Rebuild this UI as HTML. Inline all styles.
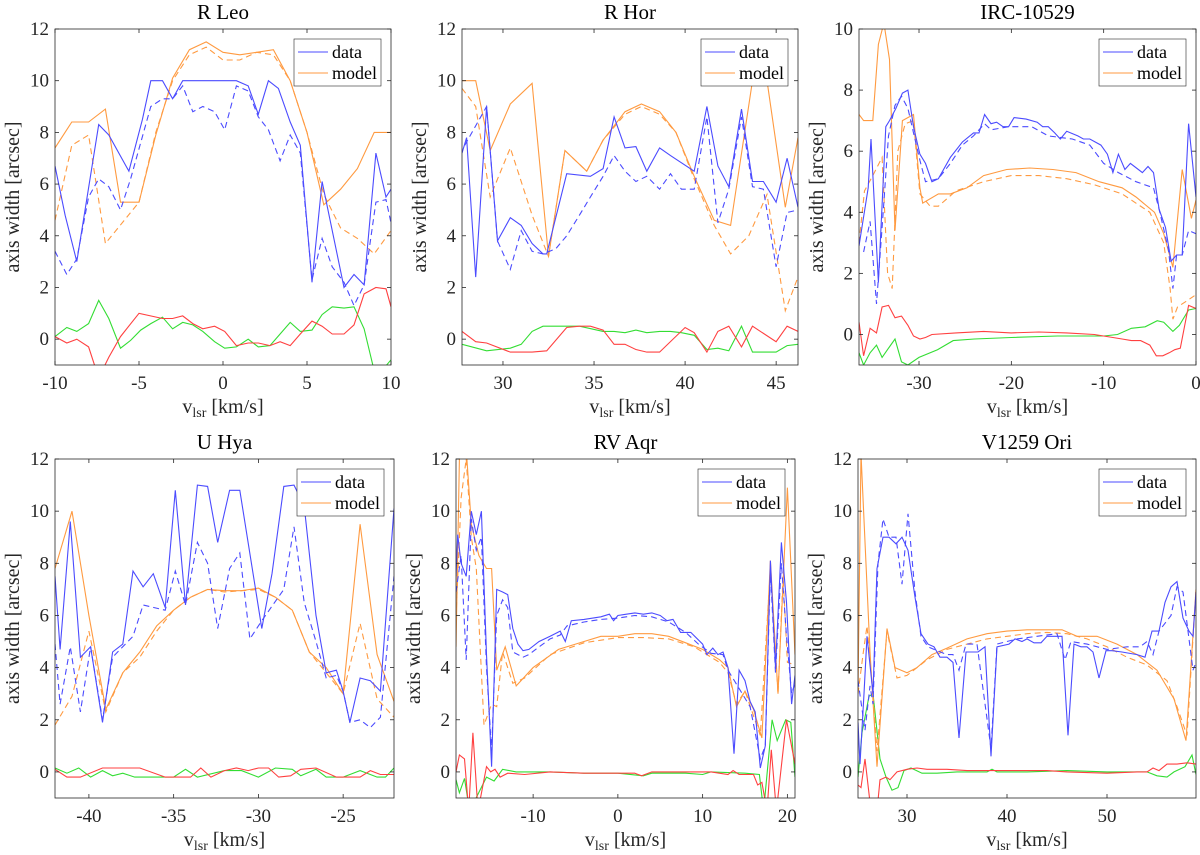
<!DOCTYPE html>
<html><head><meta charset="utf-8"><style>
body{margin:0;background:#fff}
svg{display:block;font-family:"Liberation Serif","DejaVu Serif",serif}
svg text{font-family:"Liberation Serif","DejaVu Serif",serif}
</style></head><body>
<svg id="fig" width="1200" height="855" viewBox="0 0 1200 855" xmlns="http://www.w3.org/2000/svg" font-family="Liberation Serif, DejaVu Serif, serif"></svg>
<script>
// ---------- Panel 1: R Leo ----------
const p1_bs_x=[-10,-9.4,-8.7,-7.4,-6.8,-5.6,-4.8,-4.3,-3.6,-3,-2.4,0.8,1.5,2.1,2.7,3.3,4,4.6,5.3,5.9,7.2,7.8,8.4,9.1,9.7,10];
const p1_bs_y=[6.7,4.8,3.0,8.3,7.9,6.5,8.5,10,10,9.3,10,10,9.8,8.7,10,9.7,8.4,7.5,2.2,6.1,2.0,2.5,2.1,7.2,5.5,5.8];
const p1_bd_x=[-10,-9.3,-8.7,-8,-7.4,-6.8,-6.1,-5.5,-4.3,-3.6,-3,-2.4,-1.8,-1.2,-0.5,0.1,0.8,1.5,2.1,2.7,3.4,4,4.6,5.3,5.9,6.5,7.2,7.8,8.4,9.1,9.7,10];
const p1_bd_y=[3.4,2.5,3.1,5.5,6.2,5.9,5.0,6.2,9.0,9.3,9.3,9.8,8.8,9.0,8.8,8.1,9.8,9.6,8.6,8.1,6.9,7.9,7.2,2.3,3.9,2.8,2.2,1.3,2.1,5.3,5.4,4.5];
const p1_os_x=[-10,-9,-8,-7,-6.1,-5,-4,-3,-2,-1,0,1,2,3,4,5,6,7,8,9,10];
const p1_os_y=[7.4,8.4,8.4,8.9,5.3,5.3,7.9,10.1,11.2,11.5,11.1,11.0,11.1,11.2,10,8.0,5.2,5.8,6.6,8.0,8.0];
const p1_od_x=[-10,-9,-8,-7,-5,-4,-3,-2,-1,0,1,2,3,4,5,6,7,8,9,10];
const p1_od_y=[4.6,7.5,7.9,3.7,5.3,8,10,11,11.3,10.8,10.8,11.1,11,10,8,5.6,4.3,3.9,3.3,4.2];
const p1_r_x=[-10,-9.3,-8.7,-8,-7.4,-6.8,-6.1,-5,-3.6,-3,-2.4,-1.8,-1.2,-0.5,0.1,0.8,1.5,2.1,2.8,3.4,4,4.6,5.3,5.9,6.5,7.2,7.8,8.4,9.1,9.7,10];
const p1_r_y=[0.1,-0.15,0,-0.3,-1.5,-0.7,0.1,1.0,0.8,0.8,0.9,0.6,0.4,0.5,0.3,-0.25,-0.15,-0.15,-0.25,-0.1,-0.25,0.2,0.7,0.5,0.2,0.2,0.55,1.75,2.0,1.95,1.25];
const p1_g_x=[-10,-9.3,-8.7,-8,-7.4,-6.8,-6.1,-5.5,-4.9,-4.3,-3.6,-3,-2.4,-1.8,-1.2,-0.5,0.1,0.8,1.5,2.1,2.8,3.4,4,4.6,5.3,5.9,6.5,7.2,7.8,8.4,9.1,10];
const p1_g_y=[0.1,0.45,0.3,0.6,1.5,0.8,-0.35,-0.05,0.35,0.6,0.85,0.4,0.65,0.55,0.3,-0.1,-0.35,-0.3,0,-0.3,-0.25,0.2,0.65,0.3,0.35,0.95,1.25,1.2,1.25,0.4,-1.5,-0.8];

// ---------- Panel 2: R Hor ----------
const p2_bs_x=[27.75,28,28.5,29.1,29.7,30.4,31,31.6,32.2,32.4,33.5,34.8,35.5,36.1,36.7,37.3,37.9,38.6,39.2,40.5,41.2,41.8,42.4,43.1,43.7,44.3,45,45.6,46.2];
const p2_bs_y=[7.2,7.8,2.4,9.0,3.8,4.7,4.4,3.7,3.3,3.3,6.4,6.3,6.6,8.6,7.4,7.45,6.5,7.4,7.1,6.5,9.0,6.7,5.9,8.9,6.1,6.1,5.3,7.0,5.1];
const p2_bd_x=[27.9,29.1,29.7,30.4,31,31.6,32.2,32.9,33.5,34.2,34.8,35.5,36.1,36.7,37.3,37.9,38.6,39.2,39.8,40.5,41.2,41.8,42.4,43.1,43.7,44.3,45,45.6,46.2];
const p2_bd_y=[7.5,9.0,3.8,2.7,4.2,3.4,3.3,3.5,4.0,4.8,5.5,6.3,7.1,6.5,6.1,6.3,5.8,6.4,5.8,5.8,8.6,4.5,5.8,8.6,5.9,5.8,2.8,4.9,5.0];
const p2_os_x=[27.75,28.5,29.3,30.4,31.6,32.5,33.4,34.6,35.5,36.7,37.6,38.6,39.5,40.5,41.6,42.5,43.7,44.5,45.5,46.2];
const p2_os_y=[10,10,7.3,9.1,9.9,3.2,7.3,6.5,7.7,8.8,9.1,8.8,8.0,6.3,4.6,4.4,10,10,5.1,7.8];
const p2_od_x=[27.75,28.5,29.3,30.4,31.6,32.5,33.4,34.6,35.5,36.7,37.6,38.6,39.5,40.5,41.6,42.5,43.5,44.5,45.5,46.2];
const p2_od_y=[9.7,9.0,5.5,7.4,4.8,3.2,7.3,6.5,7.7,8.7,9.0,8.7,8.0,6.2,4.4,3.3,4.0,5.6,1.1,2.4];
const p2_r_x=[27.75,28.5,29.1,30.4,31.6,32.4,33.5,34.2,34.8,35.5,36.1,36.7,37.3,37.9,38.6,40,40.5,41.2,41.8,42.4,43.1,43.7,45,45.6,46.2];
const p2_r_y=[0.3,-0.1,-0.15,-0.5,-0.5,-0.45,0.45,0.5,0.5,0.35,-0.2,-0.2,-0.4,-0.5,-0.5,0.45,0.25,-0.5,0.3,0.5,-0.3,0.5,-0.1,0.5,0.3];
const p2_g_x=[27.75,29.1,30.4,31,31.6,32.2,34.2,35.5,36.1,36.7,37.3,37.9,38.6,39.2,39.8,40.5,41.2,41.8,42.4,43.1,43.7,45,45.6,46.2];
const p2_g_y=[-0.2,-0.45,-0.35,-0.2,0.3,0.5,0.5,0.3,0.3,0.25,0.35,0.25,0.3,0.3,0.25,0.15,-0.4,-0.35,-0.45,0.5,-0.5,-0.5,-0.25,-0.2];

// ---------- Panel 3: IRC-10529 ----------
const p3_bs_x=[-36.5,-35.5,-35.2,-34.4,-33.6,-33.2,-32.5,-31.8,-31.2,-30.6,-29.9,-29.3,-28.6,-27.9,-26.6,-25.3,-24.1,-23.5,-22.9,-22.2,-21.6,-20.9,-20.3,-19.7,-18.4,-17.2,-16.6,-16,-15.3,-14.7,-14,-12.8,-12.2,-11.5,-10.3,-9.6,-9,-8.4,-7.7,-7.1,-5.8,-5.2,-4.6,-4,-3.3,-2.7,-2.1,-1.5,-0.8,0];
const p3_bs_y=[2.9,4.8,6.4,1.7,6.8,7.0,7.4,7.9,8.0,6.8,5.9,5.6,5.0,5.1,5.8,6.3,6.6,6.6,7.2,6.9,6.95,6.8,6.8,7.1,7.05,6.95,6.8,6.8,6.6,6.4,6.65,6.5,6.4,6.4,6.2,5.9,5.3,5.9,5.4,5.6,5.3,5.5,5.3,4.1,3.5,2.4,2.6,2.6,6.9,4.5];
const p3_bd_x=[-36,-35.3,-34.6,-34,-33.3,-32.6,-31.9,-31.2,-30.6,-29.9,-29.3,-27.9,-26.6,-25.3,-24.1,-22.9,-22.2,-20.3,-17.8,-16,-13.4,-11.5,-10,-8.4,-6.5,-4.6,-4,-3,-2.5,-2.1,-1.5,-0.8,0];
const p3_bd_y=[2.7,3.7,1.0,3.5,6.5,7.5,7.8,7.4,6.6,5.7,5.0,5.1,5.6,6.2,6.5,6.9,6.7,6.8,6.8,6.5,6.4,6.2,5.6,5.3,5.0,4.8,4.1,2.8,1.5,2.6,2.6,3.4,3.3];
const p3_os_x=[-36.5,-36,-35,-34.4,-33.8,-33.2,-32.6,-31.8,-30.6,-29.9,-29.6,-27.9,-26.6,-24.8,-23,-20.5,-18,-15.5,-13,-10.5,-8,-6.5,-4.5,-3.5,-2.5,-1.5,-0.5,0];
const p3_os_y=[7.2,7.0,7.0,9.5,10.2,9.0,3.4,7.0,7.2,4.8,4.3,4.6,4.6,4.8,5.2,5.4,5.45,5.4,5.3,5.0,4.8,4.5,4.0,3.3,2.2,5.4,3.8,4.4];
const p3_od_x=[-36.5,-35.9,-35,-34,-33.4,-32.9,-32.3,-31.5,-30.6,-29.9,-28.8,-27.9,-26,-23,-20,-17,-14,-11,-8,-5,-3.5,-2.8,-2.5,-2,-1,0];
const p3_od_y=[3.0,4.7,5.2,5.8,2.0,1.5,6.0,6.9,7.0,4.6,4.2,4.2,4.7,5.0,5.2,5.2,5.1,4.9,4.6,4.0,3.0,1.5,0.5,0.9,1.1,1.3];
const p3_r_x=[-36.5,-36,-35.3,-34.6,-34,-33.3,-32.6,-31.9,-31.2,-30.6,-29.9,-29.3,-28.6,-26,-23,-20,-17,-14,-11,-9,-8,-7,-6,-5,-4.3,-3.6,-2.9,-2.3,-1.7,-0.8,0];
const p3_r_y=[0.4,-0.7,0.2,0.05,0.9,0.95,0.55,0.6,0.3,-0.05,-0.15,-0.1,0.0,0.05,0.1,0.05,0.08,0.05,0.0,-0.1,-0.15,-0.2,-0.2,-0.35,-0.7,-0.7,-0.6,-0.5,-0.45,0.95,0.85];
const p3_g_x=[-36.5,-36,-35.3,-34.6,-34,-33.3,-32.6,-31.9,-31.2,-30,-28,-26.3,-24,-20,-15,-10,-8.5,-7,-5.5,-4.2,-3.5,-2.5,-1.8,-0.8,0];
const p3_g_y=[-0.6,-1.0,-0.6,-0.35,-0.75,-0.45,-0.15,-0.9,-1.0,-0.75,-0.5,-0.2,-0.15,-0.1,-0.05,-0.05,0.0,0.2,0.25,0.45,0.4,0.1,0.3,0.8,0.85];

// ---------- Panel 4: U Hya ----------
const p4_bs_x=[-42,-41.7,-41.1,-40.5,-39.9,-39.2,-38.6,-38,-37.4,-36.8,-36.2,-35.5,-34.9,-34.3,-33.6,-33,-32.4,-31.7,-31.1,-29.8,-29.2,-28.5,-27.9,-27.3,-26.6,-26,-25.4,-25,-24.6,-24,-23.4,-22.8,-22];
const p4_bs_y=[7.5,4.7,9.6,4.4,4.8,1.9,4.6,4.9,7.7,7.1,7.6,6.3,10.8,6.4,11.0,10.95,8.8,10.8,10.8,5.5,7.6,10.95,11.0,10.2,6.0,3.8,3.9,3.1,1.9,3.6,3.5,3.1,10.1];
const p4_bd_x=[-42,-41.7,-41.1,-40.5,-39.9,-39.2,-38.6,-37.4,-36.8,-35.5,-34.9,-34.3,-33.6,-33,-32.4,-31.7,-31.1,-30.5,-29.8,-28.5,-27.9,-27.3,-26.6,-26,-25.4,-25,-24.6,-24,-23.4,-22.8,-22];
const p4_bd_y=[4.9,2.6,4.8,2.3,4.8,2.0,4.4,5.2,6.4,6.2,7.7,6.4,8.8,8.0,5.5,7.8,8.4,5.1,5.8,7.0,9.4,6.5,5.0,3.6,3.7,3.1,1.9,2.0,1.7,2.1,7.5];
const p4_os_x=[-42,-41,-40,-39,-38,-37,-36,-35,-34,-33,-32,-31,-30,-29,-28,-27,-26,-25,-24,-23,-22];
const p4_os_y=[7.8,10.0,6.0,2.4,3.8,4.6,5.6,6.2,6.7,7.0,6.95,6.95,7.05,6.7,6.2,4.6,4.0,3.0,9.5,4.5,2.7];
const p4_od_x=[-42,-41,-40,-39,-38,-37,-36,-35,-34,-33,-32,-31,-30,-29,-28,-27,-26,-25,-24,-23,-22];
const p4_od_y=[1.8,2.9,5.4,2.3,3.8,4.4,5.4,6.2,6.7,7.0,6.9,6.95,7.0,6.7,6.2,4.6,3.8,3.0,5.7,2.8,2.1];
const p4_r_x=[-42,-41.3,-40.5,-39.2,-37,-35.5,-34,-33.4,-32.8,-32,-31.3,-30.6,-30,-29.4,-28.8,-28.1,-27.5,-26.6,-25.4,-24,-23.4,-22.8,-22];
const p4_r_y=[0.1,-0.2,-0.2,0.15,0.15,-0.2,-0.2,0.15,-0.2,0.05,0.15,0.05,0.15,0.15,-0.2,-0.15,0.1,0.15,-0.2,-0.2,0.05,-0.1,-0.1];
const p4_g_x=[-42,-41.3,-40.6,-39.9,-39.2,-38.6,-38,-37.3,-35,-34.3,-33.6,-32,-31,-30,-29,-28,-27.5,-26.6,-26,-25,-24,-23,-22.5,-22];
const p4_g_y=[0.15,-0.05,0.15,-0.2,0.05,-0.15,-0.05,-0.2,-0.2,0.1,-0.2,0.05,0.05,-0.2,0.15,0.1,-0.15,0.1,-0.2,-0.2,0.05,-0.2,-0.2,0.15];

// ---------- Panel 5: RV Aqr ----------
const p5_bs_x=[-19.1,-18.9,-18.5,-17.9,-17.3,-16.7,-16.1,-15.5,-14.9,-14.3,-13.6,-13,-12.4,-11.8,-11.2,-10.5,-9.3,-8,-6.8,-6.2,-5.5,-4,-2,-1,-0.5,0,1,2,3,4,5,5.8,6.5,7.4,8.6,10,10.5,11.2,11.8,12.4,13,13.7,14.3,15,15.6,16.2,16.8,17.4,18,18.6,19.3,19.9,20.5,20.9];
const p5_bs_y=[7.5,9.1,8.0,7.5,10.0,9.1,10.0,4.5,0.2,7.0,6.9,6.8,5.5,4.9,4.65,4.7,5.0,5.2,5.4,5.0,5.8,5.85,5.95,6.05,5.8,6.0,6.05,6.1,6.05,6.1,6.0,5.8,5.85,5.35,5.35,4.9,4.5,4.75,4.5,4.6,4.0,0.7,3.9,3.5,2.7,2.3,0.15,1.0,8.1,4.0,8.8,6.5,2.6,3.7];
const p5_bd_x=[-19.1,-18.5,-17.9,-17.3,-16.7,-16.1,-15.5,-14.9,-14.3,-13.6,-13,-12.4,-11.2,-10.5,-9.3,-8,-6.8,-6,-4,-2,0,2,4,6,8,9.5,11,12.4,13,14.3,15.6,16.8,17.4,18,18.6,19.3,19.9,20.5,20.9];
const p5_bd_y=[6.9,8.3,4.3,9.7,8.5,9.0,4.0,0.8,6.0,6.6,6.3,4.6,4.4,4.5,4.8,5.1,5.25,5.6,5.75,5.85,5.9,6.0,5.95,5.75,5.35,4.9,4.55,4.5,3.9,3.2,2.5,0.5,1.0,7.7,3.8,8.0,5.2,3.0,3.4];
const p5_os_x=[-19.1,-18.7,-17.9,-17.3,-16.4,-15.5,-14.9,-14.3,-13.3,-12,-10,-7,-4,-2,0,2,4,6,8,10,12,13,14,15,16,17,18,18.9,20,20.9];
const p5_os_y=[4.8,12,12.4,9.5,8.3,7.8,7.8,3.9,4.8,3.3,4.0,4.7,5.0,5.2,5.2,5.3,5.3,5.2,4.95,4.7,4.3,4.0,2.5,3.1,2.4,1.3,8.1,3.0,10.9,4.5];
const p5_od_x=[-19.1,-18.5,-17.9,-17.3,-16.7,-15.8,-14.9,-14.3,-13.6,-12.4,-11,-8,-4,0,3,6,9,12,13,14,15,16.8,18,18.9,19.5,20,20.9];
const p5_od_y=[5.9,10.5,12.0,9.0,7.8,1.8,2.6,2.5,4.6,3.4,3.6,4.5,4.95,5.15,5.15,5.1,4.8,4.2,3.8,2.6,3.1,1.4,7.8,3.0,7.5,4.2,4.1];
const p5_r_x=[-19.1,-18.7,-18.1,-17.6,-17.1,-16.5,-15.5,-15,-14.5,-13.9,-13,-11,-8,-4,0,2,2.8,4,8,11,13,13.6,14.3,16,16.5,17,17.6,18.1,18.7,19.9,20.9];
const p5_r_y=[0.0,0.65,0.5,-1.5,1.5,-1.5,0.2,0.0,0.1,-0.2,-0.05,-0.1,0,-0.05,-0.05,-0.05,-0.15,0.0,0.0,0.0,-0.1,0.05,-0.1,-0.1,-0.5,-0.4,-1.5,0.85,-1.5,2.0,0.3];
const p5_g_x=[-19.1,-18.7,-18.1,-17.5,-15.5,-14.6,-13.6,-12,-8,-4,0,3,4,8,10,11,15,16.7,17.2,18.2,18.8,19.8,20.4,20.9];
const p5_g_y=[-0.3,-0.8,-0.25,-1.5,-0.2,-0.35,0.1,0.0,0.0,-0.05,-0.05,-0.15,-0.05,-0.05,-0.1,0.0,-0.05,-0.1,-1.5,2.0,1.2,2.0,1.9,-0.2];

// ---------- Panel 6: V1259 Ori ----------
const p6_bs_x=[25.1,25.3,25.7,26,26.6,27,27.6,28.2,28.9,29.5,30.1,30.8,31.4,32.1,32.7,33.3,34,34.6,35.2,35.9,37.1,37.8,38.4,39,40.2,40.8,41.5,42,42.7,43.4,44,45,45.5,46.1,46.7,47.4,48,48.6,49.2,49.9,50.5,51.5,53,53.8,54.5,55.2,55.8,56.4,57,57.6,58.2,58.6,58.9];
const p6_bs_y=[1.9,0.3,3.0,5.2,3.0,7.8,9.0,9.0,8.75,9.0,8.5,6.7,5.3,4.9,4.8,4.4,4.4,4.2,1.3,4.6,4.6,4.8,0.6,4.8,4.9,5.1,5.0,5.1,4.95,4.95,5.2,5.2,5.2,1.4,4.9,4.8,4.8,4.6,3.6,4.65,4.65,4.6,4.5,4.4,5.4,5.4,6.5,7.1,7.3,5.9,5.4,5.2,6.9];
const p6_bd_x=[25.1,25.8,26.3,26.6,27.1,27.6,28.2,28.9,29.5,30.1,30.8,31.4,32.1,32.7,34,34.6,35.2,35.9,37,38.4,39,41,43,45,45.8,46.4,48,50,52,53.3,54,54.6,55.2,56.4,57,57.6,58.6,58.9];
const p6_bd_y=[3.5,1.6,3.3,2.6,8.0,9.7,9.0,9.0,7.2,9.9,6.9,5.2,4.8,4.7,4.5,4.5,3.9,4.9,4.9,0.9,4.9,5.1,5.2,5.3,4.3,5.0,4.9,4.7,4.8,4.8,5.0,4.5,5.4,6.0,7.1,6.9,3.9,4.2];
const p6_os_x=[25.1,25.4,26.3,27,28,28.8,30,31,32.5,34,36,38,40,42,44,45.5,47,49,51,53,55,56.7,57.9,58.9];
const p6_os_y=[3.1,12.2,4.6,0.2,5.5,4.0,3.8,4.0,4.5,4.75,5.1,5.3,5.4,5.45,5.45,5.45,5.2,5.2,4.9,4.5,3.9,2.8,1.2,7.0];
const p6_od_x=[25.1,25.6,26,26.6,27,28,29,30,32,34,36,38,40,42,44,46,48,50,52,54,56,57,58,58.9];
const p6_od_y=[3.0,4.5,5.6,3.0,0.8,5.4,3.6,3.7,4.3,4.7,4.9,5.1,5.2,5.3,5.35,5.3,5.1,4.8,4.4,4.1,3.5,2.5,1.4,7.0];
const p6_r_x=[25.1,25.4,25.8,26.4,27,27.3,27.9,28.3,29,30,31,32,34,36,40,44,46,50,53,54,54.6,55.2,56,57,58,58.9];
const p6_r_y=[-0.5,-0.6,0.5,-1.5,-1.5,-0.3,-0.2,-0.3,0,0.1,0.15,0.1,0.1,0.05,0.05,0.05,0.0,-0.05,0.0,0.0,0.15,0.05,0.3,0.3,0.35,0.3];
const p6_g_x=[25.1,25.5,26.2,26.6,27.3,27.9,28.5,29.1,29.7,30.4,31.5,33,35,38,38.5,39,42,46,50,54,55,56,56.7,57.8,58.5,58.9];
const p6_g_y=[-0.2,1.5,2.9,3.0,0.5,-0.2,-0.7,-0.6,0.05,0.15,-0.05,-0.05,0.0,0.0,0.1,0.0,0.0,0.05,0.0,0.0,-0.15,-0.2,0.0,0.2,0.65,-0.1];

// ---------- Panel configuration ----------
const titles=["R Leo","R Hor","IRC-10529","U Hya","RV Aqr","V1259 Ori"];
const xRanges=[[-10,10],[27.75,46.2],[-36.5,0],[-42,-22],[-19.1,20.9],[25.1,58.9]];
const yRanges=[[-1,12],[-1,12],[-1,10],[-1,12],[-1,12],[-1,12]];
const xTicks=[[-10,-5,0,5,10],[30,35,40,45],[-30,-20,-10,0],[-40,-35,-30,-25],[-10,0,10,20],[30,40,50]];
const yTicks=[[0,2,4,6,8,10,12],[0,2,4,6,8,10,12],[0,2,4,6,8,10],[0,2,4,6,8,10,12],[0,2,4,6,8,10,12],[0,2,4,6,8,10,12]];
const series=[
 [[p1_g_x,p1_g_y],[p1_r_x,p1_r_y],[p1_od_x,p1_od_y],[p1_os_x,p1_os_y],[p1_bd_x,p1_bd_y],[p1_bs_x,p1_bs_y]],
 [[p2_g_x,p2_g_y],[p2_r_x,p2_r_y],[p2_od_x,p2_od_y],[p2_os_x,p2_os_y],[p2_bd_x,p2_bd_y],[p2_bs_x,p2_bs_y]],
 [[p3_g_x,p3_g_y],[p3_r_x,p3_r_y],[p3_od_x,p3_od_y],[p3_os_x,p3_os_y],[p3_bd_x,p3_bd_y],[p3_bs_x,p3_bs_y]],
 [[p4_g_x,p4_g_y],[p4_r_x,p4_r_y],[p4_od_x,p4_od_y],[p4_os_x,p4_os_y],[p4_bd_x,p4_bd_y],[p4_bs_x,p4_bs_y]],
 [[p5_g_x,p5_g_y],[p5_r_x,p5_r_y],[p5_od_x,p5_od_y],[p5_os_x,p5_os_y],[p5_bd_x,p5_bd_y],[p5_bs_x,p5_bs_y]],
 [[p6_g_x,p6_g_y],[p6_r_x,p6_r_y],[p6_od_x,p6_od_y],[p6_os_x,p6_os_y],[p6_bd_x,p6_bd_y],[p6_bs_x,p6_bs_y]]
];
const seriesNames=["green-residual-line","red-residual-line","model-dashed-line","model-line","data-dashed-line","data-line"];
const seriesColors=["#33dd33","#ff4040","#ff9a40","#ff9a40","#4b4bff","#4b4bff"];
const seriesDash=["","","6,4","","6,4",""];

const boxes=[[55,29,391,365],[462,29,798,365],[859,29,1196,365],[55,459,394,798],[456,459,795,798],[858,459,1196,798]];

const FF='Liberation Serif, DejaVu Serif, serif';
const NS="http://www.w3.org/2000/svg";
const svg=document.getElementById('fig');
function mk(tag,attrs,parent){const e=document.createElementNS(NS,tag);for(const k in attrs)e.setAttribute(k,attrs[k]);if(tag==='text')e.setAttribute('font-family',FF);(parent||svg).appendChild(e);return e;}

const defs=mk('defs',{});
boxes.forEach((b,i)=>{
  const [L,T,R,B]=b;
  const xr=xRanges[i], yr=yRanges[i];
  const sx=v=>L+(v-xr[0])/(xr[1]-xr[0])*(R-L);
  const sy=v=>B-(v-yr[0])/(yr[1]-yr[0])*(B-T);
  const g=mk('g',{});
  
  
  const cp=mk('clipPath',{id:'cp'+i},defs);
  mk('rect',{x:L,y:T,width:R-L,height:B-T},cp);
  const t=mk('text',{x:(L+R)/2,y:T-10,'text-anchor':'middle','font-size':'21'},g);
  t.textContent=titles[i];
  
  
  const sg=mk('g',{'clip-path':'url(#cp'+i+')'},g);
  series[i].forEach((s,k)=>{
    const [xs,ys]=s;
    const pts=xs.map((x,j)=>sx(x).toFixed(1)+','+sy(ys[j]).toFixed(1)).join(' ');
    const pl=mk('polyline',{points:pts,fill:'none',stroke:seriesColors[k],'stroke-width':'1.1','stroke-dasharray':seriesDash[k]||'none'},sg);
    
    
  });
  const ax=mk('rect',{x:L,y:T,width:R-L,height:B-T,fill:'none',stroke:'#262626','stroke-width':'0.8'},g);
  
  
  xTicks[i].forEach(v=>{
    const x=sx(v);
    mk('line',{x1:x,y1:B,x2:x,y2:B-4,stroke:'#262626','stroke-width':'0.8'},g);
    mk('line',{x1:x,y1:T,x2:x,y2:T+4,stroke:'#262626','stroke-width':'0.8'},g);
    const tl=mk('text',{x:x,y:B+24,'text-anchor':'middle','font-size':'19',fill:'#262626'},g);
    tl.textContent=v;
    
    
  });
  yTicks[i].forEach(v=>{
    const y=sy(v);
    mk('line',{x1:L,y1:y,x2:L+4,y2:y,stroke:'#262626','stroke-width':'0.8'},g);
    mk('line',{x1:R,y1:y,x2:R-4,y2:y,stroke:'#262626','stroke-width':'0.8'},g);
    const tl=mk('text',{x:L-6,y:y+6,'text-anchor':'end','font-size':'19',fill:'#262626'},g);
    tl.textContent=v;
    
    
  });
  const yl=mk('text',{x:0,y:0,'text-anchor':'middle','font-size':'20',fill:'#262626',transform:'translate('+(L-36)+','+((T+B)/2)+') rotate(-90)'},g);
  yl.textContent='axis width [arcsec]';
  
  
  const xl=mk('text',{x:(L+R)/2,y:B+48,'text-anchor':'middle','font-size':'20',fill:'#262626'},g);
  
  
  const ts1=mk('tspan',{},xl); ts1.textContent='v';
  const ts2=mk('tspan',{'font-size':'14',dy:'4'},xl); ts2.textContent='lsr';
  const ts3=mk('tspan',{dy:'-4'},xl); ts3.textContent='\u00a0[km/s]';
  const lg=mk('g',{},g);
  
  
  const lx=R-97, ly=T+10;
  mk('rect',{x:lx,y:ly,width:87,height:47,fill:'#fff',stroke:'#262626','stroke-width':'0.6'},lg);
  [['data','#4b4bff'],['model','#ff9a40']].forEach((e,k)=>{
    const yy=ly+13+k*21;
    const ln=mk('line',{x1:lx+4,y1:yy,x2:lx+34,y2:yy,stroke:e[1],'stroke-width':'1.1'},lg);
    
    
    const tx=mk('text',{x:lx+38,y:yy+6,'font-size':'18',fill:'#000'},lg);
    tx.textContent=e[0];
    
    
  });
});
</script>
</body></html>
